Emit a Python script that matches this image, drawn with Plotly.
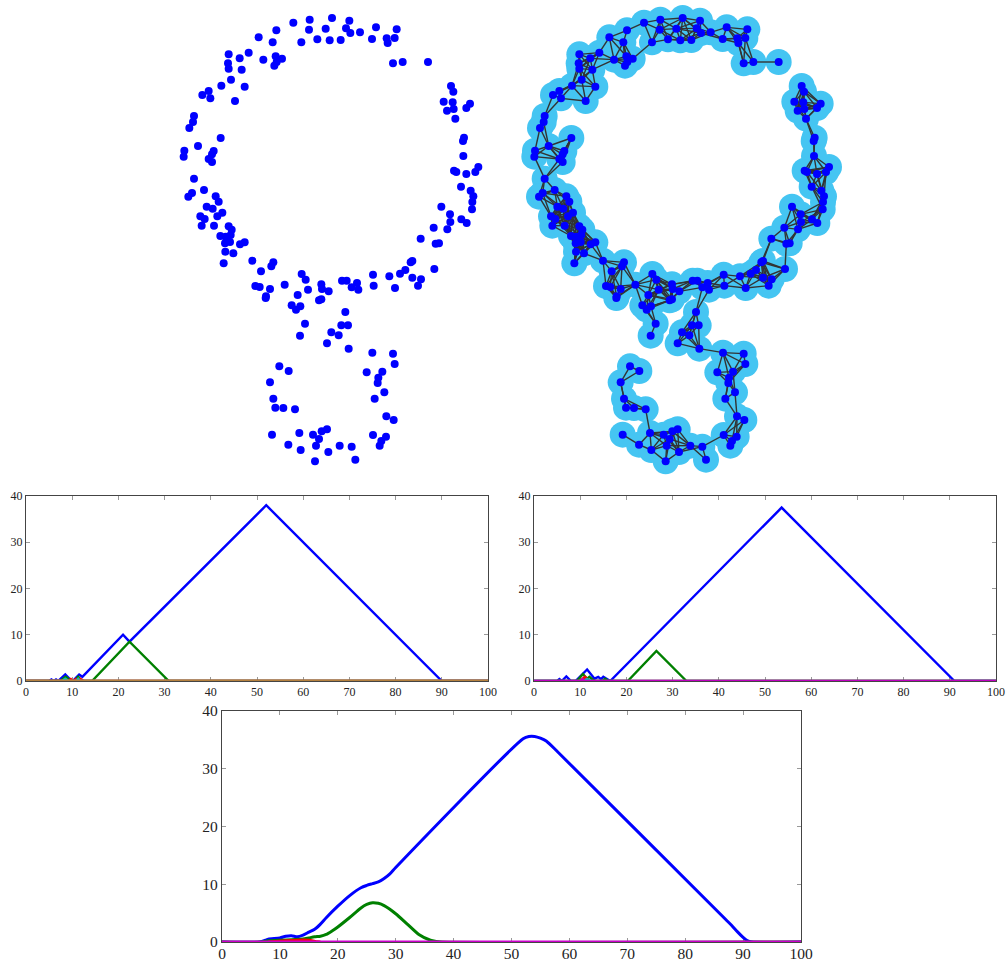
import numpy as np
import plotly.graph_objects as go

W, H = 1006, 962
# point cloud (units: 1/3 px)
upper_x = [370,419,486,538,319,417,467,528,541,570,618,680,266,308,394,442,479,512,606,650,674,653,
           176,236,209,280,317,336,320,313,174,176,215,669,698,774,
           183,154,224,116,97,121,195,843,850,821,848,851,831,900,889,856,
           72,69,58,152,84,43,41,131,126,116,126,882,879,880,852,859,889,916,925,
           72,102,66,55,137,146,110,128,157,142,91,104,95,132,873,902,910,907,906,814,840,841,874,890,791,832,
           176,185,151,167,182,172,165,180,224,210,752,797,807]
upper_y = [53,44,39,47,76,74,71,70,84,82,67,73,97,112,112,103,106,105,102,100,99,114,
           148,143,160,164,154,161,171,182,175,191,194,175,171,171,
           224,242,245,258,270,280,288,243,260,290,292,312,317,296,309,341,
           333,351,369,399,423,437,455,438,448,462,471,398,408,453,497,501,507,501,486,
           521,555,564,575,574,590,605,611,623,634,634,642,662,662,545,557,574,591,613,605,628,651,643,654,668,673,
           664,674,693,695,690,708,715,711,712,718,701,716,715]
lower_x = [166,190,161,247,310,304,273,395,407,256,269,300,344,288,287,454,456,414,383,476,516,530,561,545,565,
           609,611,658,675,690,706,722,727,727,753,744,793,
           454,447,365,391,378,526,405,514,534,484,506,390,471,536,607,669,674,328,356,590,637,625,623,300,643,
           310,614,316,340,375,649,671,306,388,429,455,471,447,609,648,634,629,355,438,509,545,392,475,435,556]
lower_y = [50,55,85,77,82,94,109,117,134,153,156,162,149,184,189,148,162,164,180,169,137,137,144,157,164,
           119,152,124,159,116,105,82,78,128,133,152,102,
           193,196,211,214,224,231,266,271,271,292,301,302,325,341,353,356,387,394,408,412,410,428,444,442,472,
           491,491,518,519,523,544,555,599,594,599,589,583,612,600,605,618,632,629,632,632,635,645,651,679,674]
LOWER_OFFSET = 690

# landscape panels
p1_x = {
 "b": [0,5,5.5,6,6.5,7,8.5,9.9,10.1,11.5,12.2,21,22.4,52,90,100],
 "g": [0,7.4,8.6,9.8,10.4,11.3,12.1,14.3,22.4,30.9,100],
 "r": [0,9.2,9.7,10.2,10.8,11.2,11.7,12.6,100],
 "c": [0,7.8,8.5,9.2,10.8,11.3,11.8,100],
 "m": [0,50,100],
 "y": [0,50,100],
 "o": [0,50,100],
}
p1_y = {
 "b": [0,0,.35,0,.35,0,1.4,0,0,1.4,.9,10,8.5,38,0,0],
 "g": [0,0,.9,0,0,.9,0,0,8.5,0,0],
 "r": [0,0,.4,0,.4,0,.5,0,0],
 "c": [0,0,.5,0,0,.5,0,0],
 "m": [0,0,0],
 "y": [0,0,0],
 "o": [0,0,0],
}
p2_x = {
 "b": [0,5,5.5,6,7,8,9,11.5,13.1,13.9,14.5,15,16.5,53.6,91,100],
 "g": [0,9.3,10.6,11.5,12,13,14.8,15.4,16,20.3,26.5,33,100],
 "r": [0,10,11,12,100],
 "c": [0,10.5,11.5,12.5,100],
 "m": [0,10,10.5,11,100],
}
p2_y = {
 "b": [0,0,.4,0,1,0,0,2.5,.5,.9,.4,.9,0,37.5,0,0],
 "g": [0,0,1.5,.5,.9,0,0,.5,0,0,6.5,0,0],
 "r": [0,0,.9,0,0],
 "c": [0,0,.4,0,0],
 "m": [0,0,.4,0,0],
}
p3_x = {
 "b": [0,6.5,7.5,8,10,11,12,13,14,15,16,17,18,20,22,24,25,26,27,28,29,30,52,53,54,55,56,58,87,88,89,90,90.7,91.5,100],
 "g": [0,6.5,8,12,14,15,16,17,18,19,20,22,24,25,26,27,28,30,32,34,36,37,38,100],
 "r": [8,11,14,15,16.5,17],
 "m": [0,25,50,75,100],
}
p3_y = {
 "b": [0,0,.3,.5,.7,1,1.1,.9,1.2,1.7,2.2,3.1,4.2,6.2,8,9.4,9.8,10.1,10.4,11,11.8,12.9,35.2,35.6,35.6,35.3,34.8,32.9,3.9,2.9,1.8,.8,.25,0,0],
 "g": [0,0,.2,.4,.5,.7,.9,1,1.3,1.9,2.6,4.2,5.9,6.5,6.8,6.7,6.3,4.9,3.1,1.3,.3,.1,0,0],
 "r": [0,.2,.35,.3,.05,0],
 "m": [0,0,0,0,0],
}
x_ticks = [0,10,20,30,40,50,60,70,80,90,100]
y_ticks = [0,10,20,30,40]

COLORS = {"b":"#0000FF","g":"#008000","r":"#FF0000","c":"#00BFBF","m":"#BF00BF","y":"#D2C000","o":"#B5813F"}
COLORS3 = dict(COLORS, m="#CC00CC")

cx = np.array(upper_x + lower_x, float)
cy = np.array(upper_y + [v + LOWER_OFFSET for v in lower_y], float)
EDGE_MAX = 78
ex, ey = [], []
for i in range(len(cx)):
    for j in range(i+1, len(cx)):
        if np.hypot(cx[i]-cx[j], cy[i]-cy[j]) <= EDGE_MAX:
            ex += [cx[i], cx[j], None]
            ey += [cy[i], cy[j], None]

fig = go.Figure()
SERIF = "Liberation Serif"

def frame(ax, ay, box, size, standoff):
    x0, y0, x1, y1 = box
    common = dict(ticks="inside", ticklen=4, tickcolor="#999", tickwidth=1, mirror="allticks", showline=True,
        linecolor="#444", linewidth=1.2, showgrid=False, zeroline=False, automargin=False, layer="below traces",
        tickfont=dict(family=SERIF, size=size, color="#222"))
    fig.layout[ax] = dict(common, domain=[x0/W, x1/W], range=[0,100], tickvals=x_ticks, anchor=ay.replace("yaxis","y"),
                          ticklabelstandoff=standoff)
    fig.layout[ay] = dict(common, domain=[1-y1/H, 1-y0/H], range=[0,40], tickvals=y_ticks, anchor=ax.replace("xaxis","x"))

def lines(px, py, colors, xa, ya, lw, spline=()):
    for k in px:
        fig.add_trace(go.Scatter(x=px[k], y=py[k], mode="lines", xaxis=xa, yaxis=ya, cliponaxis=(k == "o"),
                                 line=dict(color=colors[k], width=lw, simplify=False,
                                           shape="spline" if k in spline else "linear", smoothing=0.7),
                                 showlegend=False, hoverinfo="skip"))

frame("xaxis","yaxis",(26,496,488,681),12,-1)
frame("xaxis2","yaxis2",(534,496,996,681),12,-1)
frame("xaxis3","yaxis3",(222,711,801,942),15.5,-3)
lines(p1_x,p1_y,COLORS,"x","y",2.4)
lines(p2_x,p2_y,COLORS,"x2","y2",2.4)
lines(p3_x,p3_y,COLORS3,"x3","y3",3,("b","g","r"))

# clouds: full-page hidden axes (same data, two scales)
hidden = dict(visible=False, domain=[0,1], fixedrange=True, automargin=False)
fig.layout["xaxis4"] = dict(hidden, range=[-510, 2508], anchor="y4")
fig.layout["yaxis4"] = dict(hidden, range=[2871, -15], anchor="x4")
fig.layout["xaxis5"] = dict(hidden, range=[-1562, 1456], anchor="y5")
fig.layout["yaxis5"] = dict(hidden, range=[2871, -15], anchor="x5")

fig.add_trace(go.Scatter(x=cx, y=cy, mode="markers", xaxis="x4", yaxis="y4", cliponaxis=False,
    marker=dict(color="#0000FF", size=8, line=dict(width=0)), showlegend=False, hoverinfo="skip"))
fig.add_trace(go.Scatter(x=cx, y=cy, mode="markers", xaxis="x5", yaxis="y5", cliponaxis=False,
    marker=dict(color="#45C5F2", size=26, line=dict(width=0)), showlegend=False, hoverinfo="skip"))
fig.add_trace(go.Scatter(x=ex, y=ey, mode="lines", xaxis="x5", yaxis="y5", cliponaxis=False,
    line=dict(color="#333333", width=1.4), showlegend=False, hoverinfo="skip"))
fig.add_trace(go.Scatter(x=cx, y=cy, mode="markers", xaxis="x5", yaxis="y5", cliponaxis=False,
    marker=dict(color="#0000FF", size=8, line=dict(width=0)), showlegend=False, hoverinfo="skip"))

fig.update_layout(width=W, height=H, margin=dict(l=0,r=0,t=0,b=0), paper_bgcolor="white", plot_bgcolor="rgba(0,0,0,0)",
                  showlegend=False)
fig.write_html("out.html", config=dict(displayModeBar=False), post_script="document.body.style.margin='0';")
